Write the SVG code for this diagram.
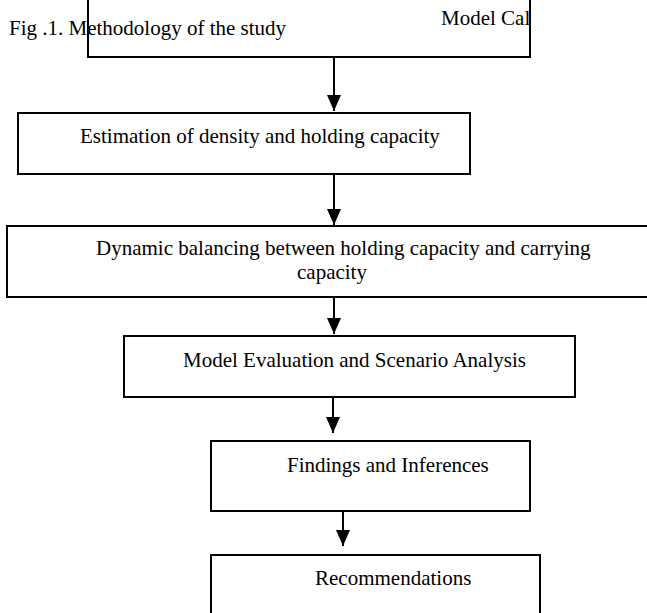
<svg xmlns="http://www.w3.org/2000/svg" width="647" height="613" viewBox="0 0 647 613">
  <style>
    .box { fill: #ffffff; stroke: #000000; stroke-width: 2; }
    .lbl { font-family: "Liberation Serif", "Times New Roman", serif; font-size: 21px; fill: #000000; }
    .conn { stroke: #000000; stroke-width: 2; fill: none; }
  </style>
  <defs>
    <marker id="arrow" viewBox="0 0 16 14" refX="16" refY="7" markerWidth="16" markerHeight="14" markerUnits="userSpaceOnUse" orient="auto">
      <path d="M0,0 L16,7 L0,14 Z" fill="#000000"/>
    </marker>
    <clipPath id="clipTop">
      <rect x="88" y="-40" width="441" height="97"/>
    </clipPath>
  </defs>
  <rect width="647" height="613" fill="#ffffff"/>

  <!-- figure caption -->
  <text id="caption" class="lbl" x="9" y="35">Fig .1. Methodology of the study</text>

  <!-- first step, cut off at the top edge -->
  <g id="node-model-cal">
    <rect class="box" x="88" y="-40" width="442" height="97" style="fill:none"/>
    <text class="lbl" x="441" y="25" clip-path="url(#clipTop)">Model Cal</text>
  </g>

  <g id="node-estimation">
    <rect class="box" x="18" y="113" width="452" height="61"/>
    <text class="lbl" x="80" y="143">Estimation of density and holding capacity</text>
  </g>

  <g id="node-balancing">
    <rect class="box" x="7" y="226" width="660" height="71"/>
    <text class="lbl" x="96" y="255">Dynamic balancing between holding capacity and carrying</text>
    <text class="lbl" x="297" y="279">capacity</text>
  </g>

  <g id="node-evaluation">
    <rect class="box" x="124" y="336" width="451" height="61"/>
    <text class="lbl" x="183" y="367">Model Evaluation and Scenario Analysis</text>
  </g>

  <g id="node-findings">
    <rect class="box" x="211" y="441" width="319" height="70"/>
    <text class="lbl" x="287" y="472">Findings and Inferences</text>
  </g>

  <g id="node-recommendations">
    <rect class="box" x="211" y="555" width="329" height="80"/>
    <text class="lbl" x="315" y="585">Recommendations</text>
  </g>

  <!-- connectors -->
  <g id="connectors">
    <line class="conn" x1="334" y1="57" x2="334" y2="111" marker-end="url(#arrow)"/>
    <line class="conn" x1="334" y1="174" x2="334" y2="225" marker-end="url(#arrow)"/>
    <line class="conn" x1="334" y1="297" x2="334" y2="334" marker-end="url(#arrow)"/>
    <line class="conn" x1="333" y1="397" x2="333" y2="433" marker-end="url(#arrow)"/>
    <line class="conn" x1="343" y1="511" x2="343" y2="546" marker-end="url(#arrow)"/>
  </g>
</svg>
